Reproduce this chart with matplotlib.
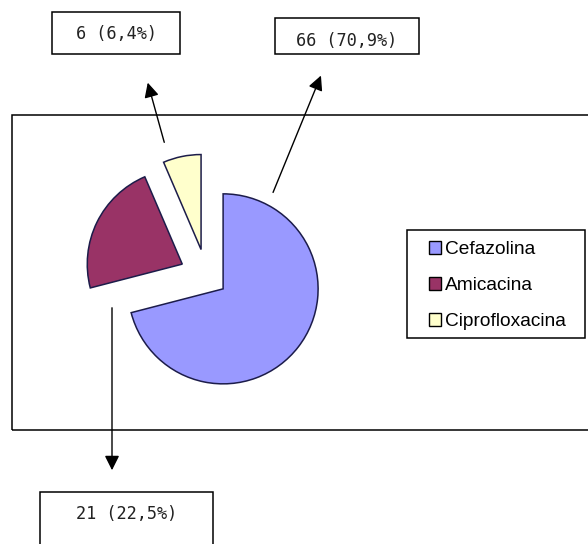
import matplotlib.pyplot as plt
from matplotlib.patches import Rectangle, Patch

# data
labels = ['Cefazolina', 'Amicacina', 'Ciprofloxacina']
counts = [66, 21, 6]
pcts = ['70,9', '22,5', '6,4']
colors = ['#9999FF', '#993366', '#FFFFCC']

W, H = 588, 544
R = 95
explode = [21, 27, 27]  # pie explode is in data units here (pixels)

fig = plt.figure(figsize=(W / 100, H / 100), dpi=100)
ax = fig.add_axes([0, 0, 1, 1])

# outer plot area frame
ax.add_patch(Rectangle((12, H - 430), 600, 315, fill=False, ec='black', lw=1.1))

wedges, _ = ax.pie(counts, colors=colors, explode=explode, startangle=90,
                   counterclock=False, center=(206.5, H - 276), radius=R,
                   frame=True, wedgeprops=dict(edgecolor='#1c1c4a', linewidth=1.1))

# label boxes with arrows (screen coords: box x0, y0, x1, y1 / arrow start, end)
boxes = {
    'Cefazolina': ((275, 18, 419, 54), (272, 195), (322, 73)),
    'Amicacina': ((40, 492, 213, 560), (112, 305), (112, 473)),
    'Ciprofloxacina': ((52, 12, 180, 54), (165, 145), (147, 80)),
}
text_y = {'Cefazolina': 41, 'Amicacina': 514, 'Ciprofloxacina': 34}

for lab, n, p in zip(labels, counts, pcts):
    (x0, y0, x1, y1), a0, a1 = boxes[lab]
    ax.add_patch(Rectangle((x0, H - y1), x1 - x0, y1 - y0, fill=False, ec='black', lw=1.1))
    ax.text((x0 + x1) / 2, H - text_y[lab], f'{n} ({p}%)', ha='center', va='center',
            family='DejaVu Sans Mono', fontsize=12.2, color='#222222')
    ax.annotate('', xy=(a1[0], H - a1[1]), xytext=(a0[0], H - a0[1]),
                arrowprops=dict(arrowstyle='-|>', color='black', lw=1, mutation_scale=22))

# legend frame drawn separately so the padding matches
ax.add_patch(Rectangle((407, H - 338), 178, 108, fill=False, ec='black', lw=1.1))
handles = [Patch(facecolor=c, edgecolor='black', lw=1) for c in colors]
leg = ax.legend(handles, labels, loc='upper left', bbox_to_anchor=(429 / W, 1 - 241 / H),
                borderaxespad=0, frameon=False,
                prop={'family': 'Liberation Sans', 'size': 13.8},
                handlelength=0.65, handleheight=0.65, handletextpad=0.2,
                labelspacing=0.98, borderpad=0)

ax.set_xlim(0, W)
ax.set_ylim(0, H)
ax.set_aspect('equal')
ax.axis('off')

fig.savefig('out.png', dpi=100)
